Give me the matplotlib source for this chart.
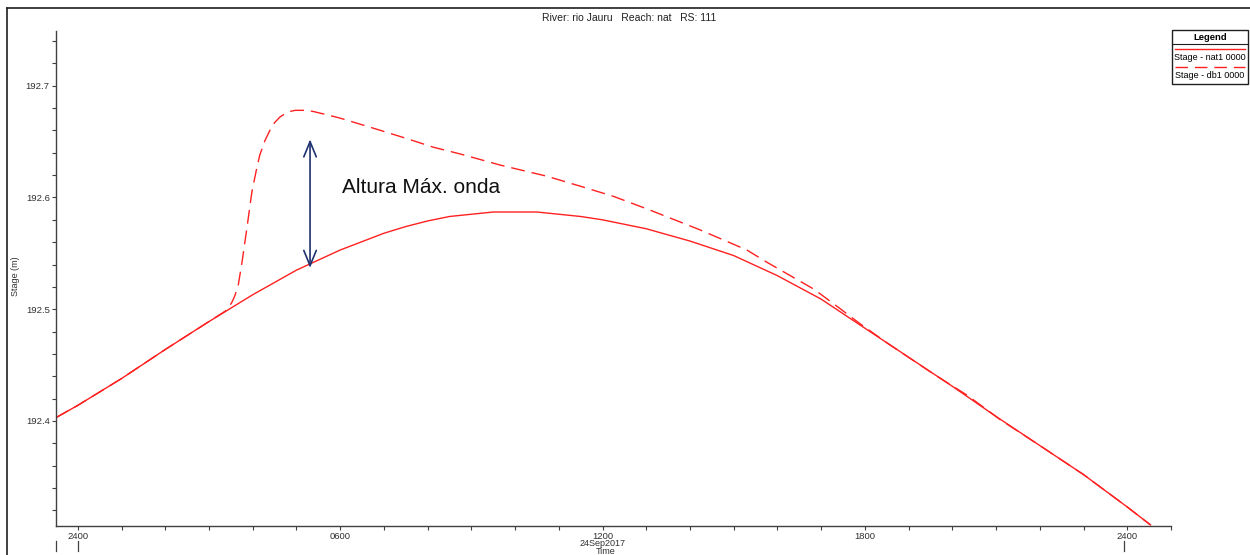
import matplotlib
matplotlib.use("Agg")
import matplotlib.pyplot as plt
from matplotlib.lines import Line2D
from matplotlib.patches import Rectangle

# hours after 24Sep2017 00:00
nat_hours = [-0.5, 0, 1, 2, 3, 4, 5, 6, 7, 7.5, 8, 8.5, 9, 9.5, 10, 10.5, 11,
             11.5, 12, 13, 14, 15, 16, 17, 18, 19, 20, 21, 22, 23, 24, 24.53]
nat_stage = [192.403, 192.414, 192.438, 192.464, 192.489, 192.513, 192.535,
             192.553, 192.568, 192.574, 192.579, 192.583, 192.585, 192.587,
             192.587, 192.587, 192.585, 192.583, 192.580, 192.572, 192.561,
             192.548, 192.530, 192.509, 192.483, 192.457, 192.431, 192.404,
             192.378, 192.352, 192.323, 192.307]

db_hours = [-0.5, 0, 1, 2, 3, 3.40, 3.52, 3.59, 3.67, 3.75, 3.86, 3.98, 4.09,
            4.16, 4.28, 4.39, 4.50, 4.62, 4.74, 4.85, 4.97, 5.08, 5.23, 5.38,
            5.7, 6.0, 6.76, 7.5, 8.13, 8.74, 9.66, 10.73, 11.5, 12.25, 13.0,
            13.78, 14.23, 15.30, 15.76, 16.83, 17.28, 17.89, 18.5, 19.57,
            20.34, 21.10, 22, 23, 24, 24.53]
db_stage = [192.403, 192.414, 192.438, 192.464, 192.489, 192.499, 192.506,
            192.512, 192.522, 192.541, 192.571, 192.605, 192.626, 192.638,
            192.651, 192.660, 192.667, 192.672, 192.675, 192.677, 192.678,
            192.678, 192.678, 192.677, 192.674, 192.671, 192.662, 192.653,
            192.645, 192.639, 192.629, 192.619, 192.610, 192.601, 192.590,
            192.578, 192.571, 192.553, 192.542, 192.518, 192.505, 192.487,
            192.470, 192.442, 192.423, 192.401, 192.378, 192.352, 192.323,
            192.307]

x_ticks = [0, 6, 12, 18, 24]
x_labels = ["2400", "0600", "1200", "1800", "2400"]
y_ticks = [192.4, 192.5, 192.6, 192.7]

plt.rcParams["font.family"] = ["Liberation Sans", "DejaVu Sans"]

W, H = 1250, 555
fig = plt.figure(figsize=(W / 100, H / 100), dpi=100)
ax = fig.add_axes([56 / W, 1 - 526 / H, (1171 - 56) / W, (526 - 31) / H])

ax.plot(nat_hours, nat_stage, color="#ff2020", lw=1.0)
ax.plot(db_hours, db_stage, color="#ff2020", lw=1.0, dashes=(10, 5))

ax.set_xlim(-0.5, 25.0)
ax.set_ylim(192.306, 192.749)

for side in ("top", "right"):
    ax.spines[side].set_visible(False)
for side in ("left", "bottom"):
    ax.spines[side].set_color("#404040")
    ax.spines[side].set_linewidth(1.0)

ax.set_xticks(x_ticks)
ax.set_xticklabels(x_labels)
ax.set_xticks(range(0, 26), minor=True)
ax.set_yticks(y_ticks)
ax.set_yticklabels([f"{v:.1f}" for v in y_ticks])
ax.set_yticks([192.32 + 0.02 * i for i in range(22)], minor=True)
ax.tick_params(which="both", direction="out", length=3, width=0.8,
               color="#404040", labelsize=6.8, labelcolor="#303030", pad=1.5)

fig.text(16 / W, 1 - 276 / H, "Stage (m)", fontsize=6.5, color="#303030",
         rotation=90, ha="center", va="center")

# annotation: max wave height
ax.annotate("", xy=(5.31, 192.652), xytext=(5.31, 192.537),
            arrowprops=dict(arrowstyle="<->,head_length=1.1,head_width=0.45",
                            color="#1f3270", lw=1.2, shrinkA=0, shrinkB=0))
ax.text(6.03, 192.609, "Altura Máx. onda", fontsize=15, va="center",
        ha="left", color="#111111")

# title and date labels
fig.text(629 / W, 1 - 18 / H, "River: rio Jauru   Reach: nat   RS: 111",
         fontsize=7.5, ha="center", va="center", color="#202020")
fig.text(603 / W, 1 - 544 / H, "24Sep2017", fontsize=6.5, ha="center",
         va="center", color="#303030")
fig.text(606 / W, 1 - 552 / H, "Time", fontsize=6.5, ha="center",
         va="center", color="#303030")
for px in (56, 78, 1124):
    fig.add_artist(Line2D([px / W, px / W], [1 - 541 / H, 1 - 551 / H],
                          color="#404040", lw=0.9))

# outer frame
fig.add_artist(Line2D([7 / W, 7 / W], [0, 1 - 8 / H], color="#202020", lw=1.2))
fig.add_artist(Line2D([7 / W, 1], [1 - 8 / H, 1 - 8 / H], color="#202020", lw=1.2))

# legend box
fig.add_artist(Rectangle((1172 / W, 1 - 84 / H), 76 / W, 54 / H,
                         fill=False, ec="#202020", lw=1.0))
fig.add_artist(Line2D([1172 / W, 1248 / W], [1 - 44 / H, 1 - 44 / H],
                      color="#202020", lw=0.8))
fig.text(1210 / W, 1 - 37 / H, "Legend", fontsize=6.8, weight="bold",
         ha="center", va="center")
fig.add_artist(Line2D([1175 / W, 1245 / W], [1 - 49 / H, 1 - 49 / H],
                      color="#ff2020", lw=1.0))
fig.text(1210 / W, 1 - 58 / H, "Stage - nat1 0000", fontsize=6.5,
         ha="center", va="center")
fig.add_artist(Line2D([1175 / W, 1245 / W], [1 - 67 / H, 1 - 67 / H],
                      color="#ff2020", lw=1.0, dashes=(9, 5)))
fig.text(1210 / W, 1 - 76 / H, "Stage - db1 0000", fontsize=6.5,
         ha="center", va="center")

fig.savefig("out.png", dpi=100)
